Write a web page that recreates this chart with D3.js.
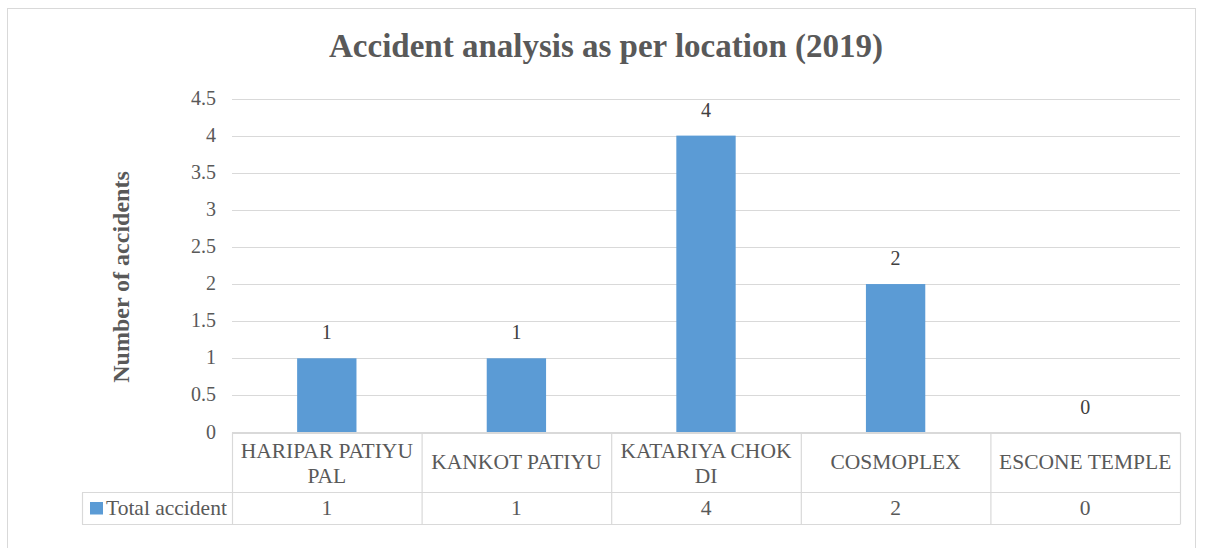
<!DOCTYPE html>
<html><head><meta charset="utf-8">
<script src="https://cdn.jsdelivr.net/npm/d3@7"></script>
<style>body{margin:0;background:#fff}svg{display:block}svg text{font-family:"Liberation Serif","Times New Roman",Times,serif}</style>
</head><body>
<script>
const categories = [["HARIPAR PATIYU","PAL"],["KANKOT PATIYU"],["KATARIYA CHOK","DI"],["COSMOPLEX"],["ESCONE TEMPLE"]];
const values = [1,1,4,2,0];
const yTicks = [0,0.5,1,1.5,2,2.5,3,3.5,4,4.5];
const seriesName = "Total accident";
const title = "Accident analysis as per location (2019)";
const yTitle = "Number of accidents";

(function(){
const W=1208,H=548, gray="#595959", grid="#d9d9d9", blue="#5b9bd5";
const svg=d3.select("body").append("svg").attr("width",W).attr("height",H);
svg.append("rect").attr("x",7.5).attr("y",8.5).attr("width",1188).attr("height",560).attr("fill","#fff").attr("stroke",grid);

const pL=232,pR=1180,pT=98.5,pB=432.5;
const x=d3.scaleBand().domain(d3.range(categories.length)).range([pL,pR]);
const y=d3.scaleLinear().domain([0,4.5]).range([pB,pT]);

svg.append("text").attr("x",606).attr("y",57).attr("text-anchor","middle").attr("font-weight","bold").attr("font-size",33).attr("fill",gray).text(title);
svg.append("text").attr("transform","translate(129,277) rotate(-90)").attr("text-anchor","middle").attr("font-weight","bold").attr("font-size",24).attr("fill",gray).text(yTitle);

const g=svg.append("g");
g.selectAll("line.grid").data(yTicks).join("line").attr("x1",pL).attr("x2",pR).attr("y1",d=>Math.round(y(d))+0.5).attr("y2",d=>Math.round(y(d))+0.5).attr("stroke",grid).attr("stroke-width",1);
g.selectAll("text.tick").data(yTicks).join("text").attr("x",216).attr("y",d=>y(d)+6).attr("text-anchor","end").attr("font-size",20).attr("fill",gray).text(d=>d);

const bw=x.bandwidth()*0.313;
g.selectAll("rect.bar").data(values).join("rect").attr("x",(d,i)=>x(i)+x.bandwidth()/2-bw/2).attr("y",d=>y(d)).attr("width",bw).attr("height",d=>y(0)-y(d)).attr("fill",blue);
g.selectAll("text.lab").data(values).join("text").attr("x",(d,i)=>x(i)+x.bandwidth()/2).attr("y",d=>y(d)-19).attr("text-anchor","middle").attr("font-size",20).attr("fill","#404040").text(d=>d);

const tL=82,r1=492.5,r2=524.5;
const tg=svg.append("g").attr("stroke",grid).attr("stroke-width",1.2);
tg.append("line").attr("x1",tL).attr("x2",pR).attr("y1",r1).attr("y2",r1);
tg.append("line").attr("x1",tL).attr("x2",pR).attr("y1",r2).attr("y2",r2);
tg.append("line").attr("x1",pL).attr("x2",pR).attr("y1",pB).attr("y2",pB);
tg.append("line").attr("x1",tL+0.5).attr("x2",tL+0.5).attr("y1",r1).attr("y2",r2);
tg.selectAll("line.v").data(d3.range(categories.length+1)).join("line").attr("x1",i=>(i<categories.length?x(i):pR)+0.5).attr("x2",i=>(i<categories.length?x(i):pR)+0.5).attr("y1",pB).attr("y2",r2);

categories.forEach((c,i)=>{
  const cx=x(i)+x.bandwidth()/2;
  const y0=c.length===2?458:469;
  c.forEach((line,j)=>{
    svg.append("text").attr("x",cx).attr("y",y0+j*24.5).attr("text-anchor","middle").attr("font-size",21.5).attr("fill",gray).text(line);
  });
});
svg.selectAll("text.val").data(values).join("text").attr("x",(d,i)=>x(i)+x.bandwidth()/2).attr("y",515).attr("text-anchor","middle").attr("font-size",21.5).attr("fill",gray).text(d=>d);
svg.append("rect").attr("x",90).attr("y",502).attr("width",13).attr("height",12.5).attr("fill",blue);
svg.append("text").attr("x",106).attr("y",515).attr("font-size",21.5).attr("fill",gray).text(seriesName);
})();
</script>
</body></html>
